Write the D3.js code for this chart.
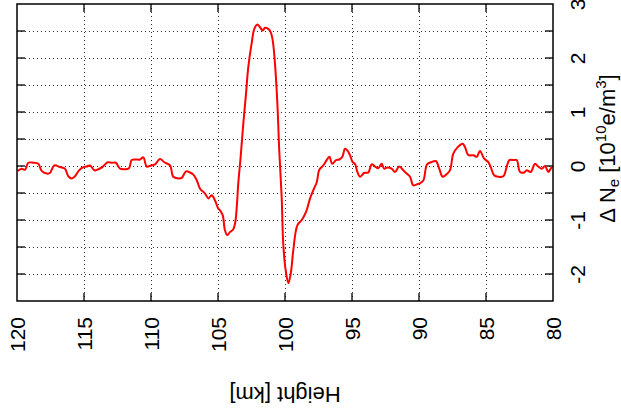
<!DOCTYPE html>
<html>
<head>
<meta charset="utf-8">
<script src="https://cdn.jsdelivr.net/npm/d3@7"></script>
<style>
  html, body { margin: 0; padding: 0; background: #fff; }
  svg { display: block; }
  text { font-family: "Liberation Sans", Arial, Helvetica, sans-serif; fill: #000; }
</style>
</head>
<body>
<svg id="chart" width="621" height="411"></svg>
<script>
// Height [km] samples and the corresponding Δ Ne [10^10 e/m^3] values
const heights = [119.95,119.65,119.40,119.16,118.78,118.41,118.16,117.78,117.54,117.22,116.79,116.42,116.17,115.92,115.67,115.37,115.05,114.80,114.55,114.23,113.93,113.63,113.23,112.93,112.63,112.31,111.94,111.64,111.44,111.14,110.82,110.57,110.32,110.00,109.70,109.33,109.01,108.58,108.34,107.96,107.71,107.39,107.09,106.84,106.59,106.34,105.97,105.72,105.47,105.22,104.98,104.85,104.65,104.48,104.31,104.10,103.88,103.73,103.60,103.49,103.31,103.11,102.91,102.74,102.49,102.29,102.07,101.87,101.66,101.49,101.25,101.07,100.92,100.75,100.57,100.43,100.25,100.13,99.95,99.75,99.57,99.38,99.08,98.75,98.43,98.13,97.84,97.63,97.44,97.14,96.89,96.69,96.47,96.19,95.95,95.72,95.52,95.35,95.15,94.95,94.78,94.60,94.40,94.10,93.78,93.53,93.28,93.04,92.78,92.61,92.37,92.04,91.79,91.47,91.17,90.92,90.67,90.43,90.17,89.93,89.68,89.40,89.10,88.73,88.49,88.23,87.93,87.69,87.44,87.14,86.74,86.57,86.32,85.94,85.69,85.45,85.15,84.83,84.65,84.40,84.08,83.71,83.46,83.26,82.96,82.71,82.46,82.16,81.96,81.66,81.34,81.10,80.84,80.60,80.35,80.18,80.03];
const dNe = [-0.09,-0.05,-0.07,0.06,0.06,0.04,-0.09,-0.14,-0.13,0.01,-0.02,-0.05,-0.19,-0.23,-0.19,-0.08,-0.02,-0.01,0.01,-0.08,-0.06,-0.02,0.07,0.06,0.06,-0.05,-0.06,-0.04,0.11,0.12,0.12,0.16,-0.01,0.01,0.03,0.13,0.07,0.01,-0.20,-0.23,-0.22,-0.10,-0.12,-0.16,-0.26,-0.42,-0.51,-0.60,-0.54,-0.64,-0.79,-0.82,-0.91,-1.19,-1.28,-1.22,-1.18,-1.07,-0.76,-0.33,0.17,0.79,1.34,1.83,2.27,2.54,2.62,2.57,2.51,2.56,2.54,2.48,2.33,1.90,1.16,0.29,-0.57,-1.44,-1.93,-2.17,-1.99,-1.56,-1.10,-1.00,-0.85,-0.60,-0.42,-0.30,-0.07,0.01,0.11,0.17,0.04,0.11,0.12,0.17,0.32,0.29,0.20,0.07,0.04,-0.11,-0.20,-0.13,-0.12,0.03,-0.01,-0.04,0.04,-0.05,-0.03,-0.05,-0.11,-0.01,-0.08,-0.14,-0.20,-0.36,-0.34,-0.32,-0.27,0.03,0.07,0.09,-0.05,-0.20,-0.15,-0.08,0.23,0.34,0.41,0.35,0.20,0.20,0.17,0.28,0.14,0.07,-0.02,-0.17,-0.20,-0.19,-0.02,0.11,0.11,0.11,-0.11,-0.12,-0.08,-0.11,0.04,-0.01,-0.05,0,-0.11,-0.05,0.01];
const xTicks = [120,115,110,105,100,95,90,85,80];
const yTicks = [-2,-1,0,1,2,3];
const yGrid = [-2,-1.5,-1,-0.5,0,0.5,1,1.5,2,2.5];
const xLabel = "Height [km]";

const svg = d3.select("#chart");
const L = 17, R = 553, T = 4, B = 301;

const x = d3.scaleLinear().domain([120, 80]).range([L, R]);
const y = d3.scaleLinear().domain([-2.5, 3]).range([B, T]);

// grid
const grid = svg.append("g").attr("stroke", "#333").attr("stroke-width", 1).attr("stroke-dasharray", "1,3");
grid.selectAll("line.h").data(yGrid).join("line")
  .attr("x1", L).attr("x2", R).attr("y1", d => Math.round(y(d)) + 0.5).attr("y2", d => Math.round(y(d)) + 0.5);
grid.selectAll("line.v").data(xTicks.filter(d => d !== 120 && d !== 80)).join("line")
  .attr("y1", T).attr("y2", B).attr("x1", d => Math.round(x(d)) + 0.5).attr("x2", d => Math.round(x(d)) + 0.5);

// inward ticks
const tk = 8;
const ticks = svg.append("g").attr("stroke", "#000").attr("stroke-width", 1.3);
ticks.selectAll("line.l").data(yGrid).join("line")
  .attr("x1", L).attr("x2", L + tk).attr("y1", d => y(d)).attr("y2", d => y(d));
ticks.selectAll("line.r").data(yGrid).join("line")
  .attr("x1", R).attr("x2", R - tk).attr("y1", d => y(d)).attr("y2", d => y(d));
const xi = xTicks.filter(d => d !== 120 && d !== 80);
ticks.selectAll("line.t").data(xi).join("line")
  .attr("x1", d => x(d)).attr("x2", d => x(d)).attr("y1", T).attr("y2", T + tk);
ticks.selectAll("line.b").data(xi).join("line")
  .attr("x1", d => x(d)).attr("x2", d => x(d)).attr("y1", B).attr("y2", B - tk);

// data line
const line = d3.line().x((d, i) => x(heights[i])).y(d => y(d)).curve(d3.curveCatmullRom.alpha(0.5));
svg.append("path").datum(dNe)
  .attr("fill", "none").attr("stroke", "#ff0000").attr("stroke-width", 2)
  .attr("stroke-linejoin", "round").attr("d", line);

// border
svg.append("rect").attr("x", L).attr("y", T).attr("width", R - L).attr("height", B - T)
  .attr("fill", "none").attr("stroke", "#000").attr("stroke-width", 1.5);

// x axis labels (rotated)
const xAxis = svg.append("g").attr("transform", `translate(0,${B})`)
  .call(d3.axisBottom(x).tickValues(xTicks).tickSize(0).tickFormat(d3.format("d")));
xAxis.select(".domain").remove();
xAxis.selectAll("text")
  .attr("y", 0).attr("dy", 0)
  .attr("text-anchor", "end")
  .attr("font-size", 21)
  .style("font-family", "'Liberation Sans', Arial, sans-serif")
  .attr("transform", "translate(7.5,16) rotate(-90)");

// y axis labels (rotated)
const yAxis = svg.append("g").attr("transform", `translate(${R},0)`)
  .call(d3.axisRight(y).tickValues(yTicks).tickSize(0).tickFormat(d => d < 0 ? "-" + Math.abs(d) : d));
yAxis.select(".domain").remove();
yAxis.selectAll("text")
  .attr("x", 0).attr("dy", 0)
  .attr("text-anchor", "middle")
  .attr("font-size", 21)
  .style("font-family", "'Liberation Sans', Arial, sans-serif")
  .attr("transform", "translate(32,0) rotate(-90)");

// x label (upside down)
svg.append("text")
  .attr("transform", `translate(${(L + R) / 2},387) rotate(180)`)
  .attr("text-anchor", "middle").attr("font-size", 22)
  .text(xLabel);

// y label (rotated)
const yl = svg.append("text")
  .attr("transform", `translate(615,${(T + B) / 2 - 4}) rotate(-90)`)
  .attr("text-anchor", "middle").attr("font-size", 22);
yl.append("tspan").text("Δ N");
yl.append("tspan").attr("font-size", 15).attr("dy", 4).text("e");
yl.append("tspan").attr("dy", -4).text(" [10");
yl.append("tspan").attr("font-size", 15).attr("dy", -9).text("10");
yl.append("tspan").attr("dy", 9).text("e/m");
yl.append("tspan").attr("font-size", 15).attr("dy", -9).text("3");
yl.append("tspan").attr("dy", 9).text("]");
</script>
</body>
</html>
